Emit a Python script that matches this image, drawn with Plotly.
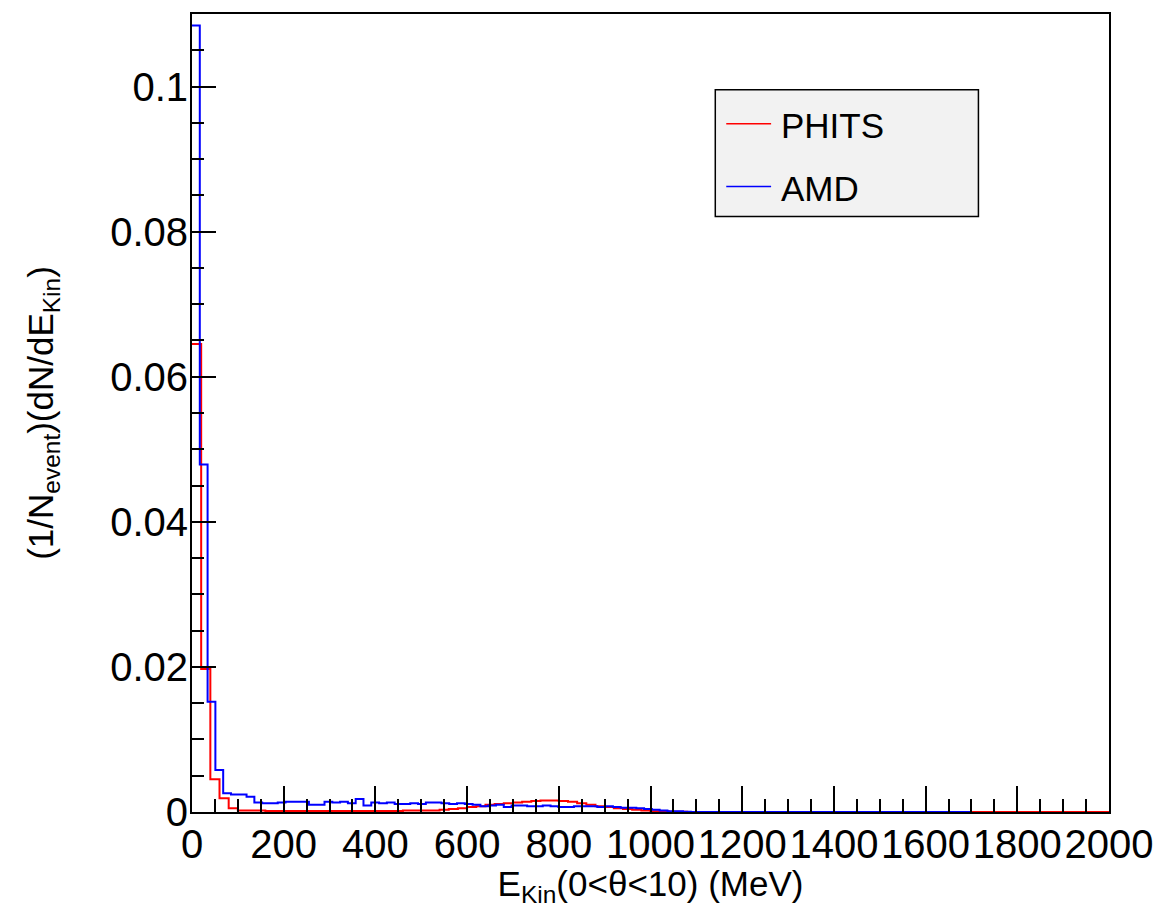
import numpy as np
import plotly.graph_objects as go

# PHITS: 100 bins of 20 MeV from 0 to 2000
phits_bin_width = 20.0
phits_values = [
    0.0645, 0.0197, 0.0045, 0.0019, 0.0005, 0.0002, 0.0002, 0.0002, 0.00015, 0.00015,
    0.00015, 0.00015, 0.00015, 0.00015, 0.00015, 0.00015, 0.00015, 0.00015, 0.00015, 0.00015,
    0.00015, 0.00015, 0.00015, 0.0002, 0.0002, 0.0002, 0.0002, 0.0003, 0.0004, 0.0005,
    0.0007, 0.0008, 0.0010, 0.0011, 0.0012, 0.0013, 0.0014, 0.0015, 0.0016, 0.0016,
    0.0015, 0.0014, 0.0012, 0.0010, 0.0008, 0.0007, 0.0005, 0.0004, 0.0003, 0.0002,
    0.0001, 0.0001, 0.00005, 0.00003, 0, 0, 0, 0, 0, 0,
    0, 0, 0, 0, 0, 0, 0, 0, 0, 0,
    0, 0, 0, 0, 0, 0, 0, 0, 0, 0,
    0, 0, 0, 0, 0, 0, 0, 0, 0, 0,
    0, 0, 0, 0, 0, 0, 0, 0, 0, 0,
]

# AMD: 100 bins of 17 MeV from 0 to 1700
amd_bin_width = 17.0
amd_values = [
    0.1084, 0.0479, 0.0152, 0.0058, 0.0026, 0.0024, 0.0024, 0.0021, 0.0013, 0.0012,
    0.0012, 0.0013, 0.0014, 0.0014, 0.0014, 0.0010, 0.0010, 0.0014, 0.0013, 0.0014,
    0.0012, 0.0018, 0.0009, 0.0013, 0.0012, 0.0013, 0.0011, 0.0011, 0.0012, 0.0011,
    0.0013, 0.0013, 0.0012, 0.0011, 0.0012, 0.0011, 0.0010, 0.0008, 0.0009, 0.0010,
    0.0007, 0.0009, 0.0009, 0.0008, 0.0008, 0.0009, 0.0008, 0.0007, 0.0007, 0.0008,
    0.0008, 0.0008, 0.0007, 0.0008, 0.0007, 0.0006, 0.0006, 0.0005, 0.0004, 0.0003,
    0.0002, 0.0001, 0.0001, 0.00003, 0, 0, 0, 0, 0, 0,
    0, 0, 0, 0, 0, 0, 0, 0, 0, 0,
    0, 0, 0, 0, 0, 0, 0, 0, 0, 0,
    0, 0, 0, 0, 0, 0, 0, 0, 0, 0,
]

series_names = ["PHITS", "AMD"]
series_colors = ["#ff0000", "#0000ff"]

y_tick_vals = [0, 0.02, 0.04, 0.06, 0.08, 0.1]
y_tick_text = ["0", "0.02", "0.04", "0.06", "0.08", "0.1"]
x_tick_vals = [0, 200, 400, 600, 800, 1000, 1200, 1400, 1600, 1800, 2000]
x_tick_text = [str(v) for v in x_tick_vals]

W, H = 1165, 908
ML, MR, MT, MB = 192, 53, 12, 96
PW, PH = W - ML - MR, H - MT - MB


def step_xy(values, width):
    vals = np.asarray(values, dtype=float)
    edges = np.arange(len(vals) + 1) * width
    y = np.append(vals, vals[-1])
    return edges, y


fig = go.Figure()
for vals, bw, name, col in zip([phits_values, amd_values], [phits_bin_width, amd_bin_width],
                               series_names, series_colors):
    sx, sy = step_xy(vals, bw)
    fig.add_trace(go.Scatter(x=sx, y=sy, mode="lines", line=dict(color=col, width=2, shape="hv"),
                             name=name, showlegend=False))

FONT = "Liberation Sans, Arial, Helvetica, sans-serif"


def px(xp):
    return (xp - ML) / PW


def py(yp):
    return (MT + PH - yp) / PH


# legend box (drawn manually to match ROOT TLegend look)
shapes = [dict(type="rect", xref="paper", yref="paper",
               x0=px(717), x1=px(981), y0=py(215), y1=py(88),
               fillcolor="#f2f2f2", line=dict(color="black", width=1.5), layer="above")]
annotations = []
for i, (name, col) in enumerate(zip(series_names, series_colors)):
    yc = 122 + 63 * i
    shapes.append(dict(type="line", xref="paper", yref="paper",
                       x0=px(728), x1=px(773), y0=py(yc), y1=py(yc),
                       line=dict(color=col, width=1.5), layer="above"))
    annotations.append(dict(xref="paper", yref="paper", x=px(781), y=py(yc + 2),
                            xanchor="left", yanchor="middle", text=name, showarrow=False,
                            font=dict(size=35, family=FONT, color="black")))

fig.update_layout(
    width=W, height=H,
    margin=dict(l=ML, r=MR, t=MT, b=MB),
    paper_bgcolor="white", plot_bgcolor="white",
    font=dict(family=FONT, color="black", size=39),
    showlegend=False,
    shapes=shapes, annotations=annotations,
    xaxis=dict(
        range=[0, 2000], tickvals=x_tick_vals, ticktext=x_tick_text,
        ticks="inside", ticklen=26, tickwidth=1.5, tickcolor="black",
        minor=dict(dtick=50, ticks="inside", ticklen=13, tickwidth=1.5, tickcolor="black"),
        showline=True, linecolor="black", linewidth=2, mirror=True,
        showgrid=False, zeroline=False,
        tickfont=dict(size=40), ticklabelstandoff=-4,
        title=dict(text="E<sub>Kin</sub>(0&lt;θ&lt;10) (MeV)", font=dict(size=35), standoff=2),
    ),
    yaxis=dict(
        range=[0, 0.11], tickvals=y_tick_vals, ticktext=y_tick_text,
        ticks="inside", ticklen=24, tickwidth=1.5, tickcolor="black",
        minor=dict(dtick=0.005, ticks="inside", ticklen=12, tickwidth=1.5, tickcolor="black"),
        showline=True, linecolor="black", linewidth=2, mirror=True,
        showgrid=False, zeroline=False,
        tickfont=dict(size=40), ticklabelstandoff=-6,
        title=dict(text="(1/N<sub>event</sub>)(dN/dE<sub>Kin</sub>)", font=dict(size=35), standoff=46),
    ),
)

fig.write_html("out.html")
